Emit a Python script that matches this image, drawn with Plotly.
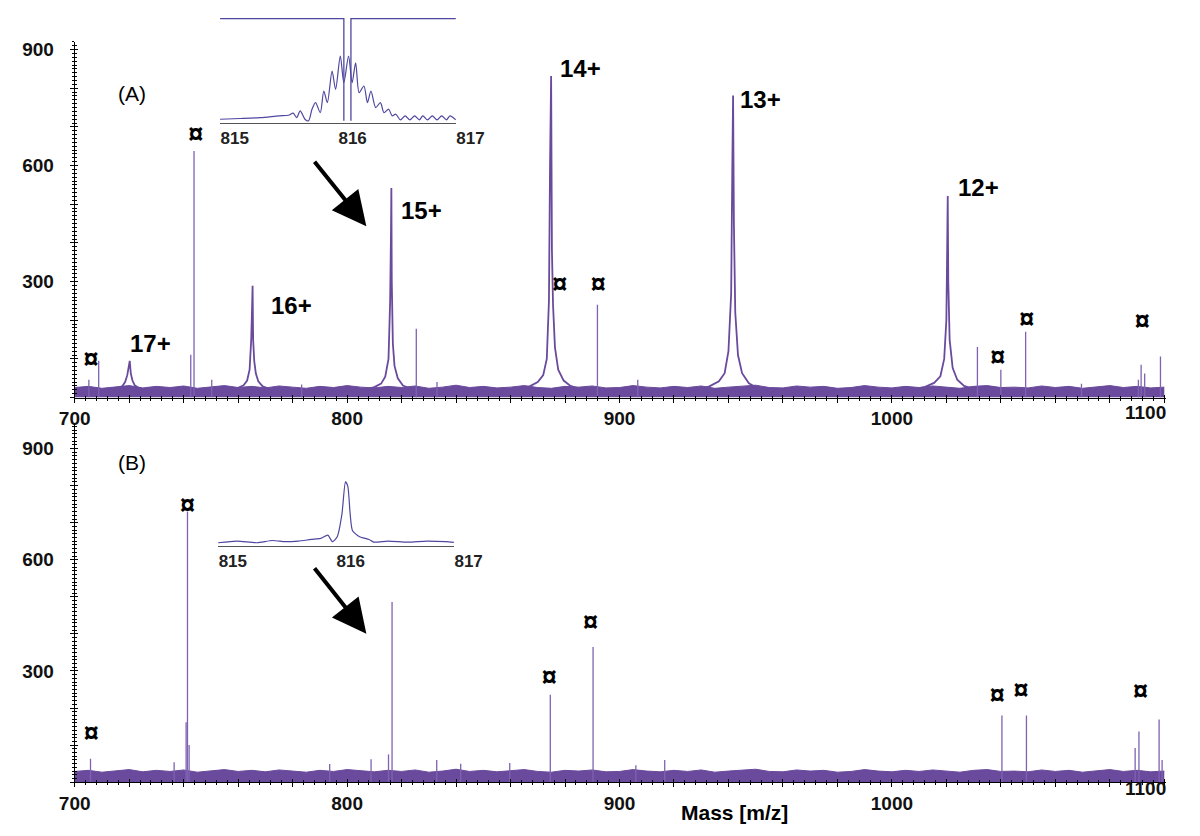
import plotly.graph_objects as go

# ---------------- data ----------------
noise_mz = list(range(700, 1101, 5))
noiseA = [26, 29, 24, 28, 31, 25, 29, 26, 30, 24, 27, 31, 26, 29, 25, 30, 27, 24, 29, 26,
          31, 27, 25, 29, 26, 30, 24, 27, 32, 26, 29, 25, 27, 31, 26, 24, 29, 27, 30, 25,
          26, 31, 27, 25, 29, 26, 30, 24, 27, 29, 32, 26, 25, 30, 27, 29, 24, 26, 31, 27,
          25, 29, 26, 30, 27, 24, 29, 31, 26, 27, 25, 30, 26, 29, 24, 27, 31, 26, 29, 25, 27]
noiseB = [29, 32, 27, 31, 34, 28, 32, 29, 33, 27, 30, 34, 29, 32, 28, 33, 30, 27, 32, 29,
          34, 30, 28, 32, 29, 33, 27, 30, 35, 29, 32, 28, 30, 34, 29, 27, 32, 30, 33, 28,
          29, 34, 30, 28, 32, 29, 33, 27, 30, 32, 35, 29, 28, 33, 30, 32, 27, 29, 34, 30,
          28, 32, 29, 33, 30, 27, 32, 34, 29, 30, 28, 33, 29, 32, 27, 30, 34, 29, 32, 28, 30]

# charge-state envelope peaks, panel A (m/z, intensity)
p17_mz = [714, 716, 717.5, 718.5, 719.3, 719.8, 720.2, 720.6, 721.2, 722, 723.5, 726]
p17_y = [20, 24, 30, 40, 58, 80, 95, 62, 44, 32, 25, 20]
p16_mz = [757, 760, 762, 763.3, 764.2, 764.8, 765.1, 765.3, 765.5, 765.9, 766.5, 767.4, 769, 772]
p16_y = [20, 25, 32, 44, 72, 150, 230, 289, 150, 95, 62, 42, 29, 21]
p15_mz = [806, 810, 812.5, 814, 815.2, 815.8, 816.1, 816.25, 816.4, 816.8, 817.4, 818.6, 820.5, 824]
p15_y = [20, 27, 36, 54, 100, 250, 423, 542, 300, 140, 82, 50, 31, 21]
p14_mz = [863, 867, 870, 872, 873.3, 874.1, 874.5, 874.9, 875.2, 875.6, 876.3, 877.5, 879.5, 882, 886]
p14_y = [21, 29, 40, 58, 100, 250, 600, 832, 380, 240, 130, 72, 44, 30, 21]
p13_mz = [929, 933, 936.5, 938.6, 940, 941, 941.4, 941.7, 942, 942.5, 943.5, 945, 947.5, 951]
p13_y = [21, 29, 42, 63, 120, 270, 582, 781, 450, 220, 110, 63, 37, 23]
p12_mz = [1008, 1012, 1015.5, 1017.8, 1019.2, 1020, 1020.3, 1020.5, 1020.7, 1021.2, 1022.3, 1024, 1026.5, 1030]
p12_y = [21, 27, 38, 55, 100, 200, 387, 521, 300, 150, 77, 46, 30, 22]

# narrow single peaks
sticksA_mz = [705.2, 708.8, 742.6, 743.8, 750.3, 783.3, 825.4, 833.0, 891.9, 906.7,
              1031.4, 1040.0, 1049.1, 1069.6, 1090.5, 1091.5, 1092.8, 1098.6]
sticksA_y = [46, 95, 111, 638, 46, 34, 178, 40, 240, 46, 131, 72, 170, 36, 46, 85, 62, 106]
sticksB_mz = [705.8, 736.5, 740.9, 741.4, 742.0, 793.6, 808.8, 815.2, 816.5, 832.9, 841.7,
              859.7, 874.6, 890.3, 906.0, 916.6, 1040.4, 1049.4, 1089.3, 1090.7, 1098.1, 1099.2]
sticksB_y = [63, 54, 162, 730, 100, 49, 62, 75, 486, 60, 50, 52, 236, 365, 46, 60,
             180, 180, 92, 137, 169, 60]

# "¤" markers
markA_mz = [706.0, 744.4, 878.1, 892.2, 1038.9, 1049.5, 1091.9]
markA_y = [95, 675, 289, 289, 100, 198, 193]
markB_mz = [706.1, 741.4, 874.2, 889.4, 1038.7, 1047.4, 1091.3]
markB_y = [126, 743, 278, 427, 230, 243, 239]

# charge state labels
charge_text = ['17+', '16+', '15+', '14+', '13+', '12+']
charge_mz = [727.9, 779.5, 827.2, 885.7, 951.6, 1031.8]
charge_y = [140, 237, 485, 850, 772, 544]

# inset A: zoom on 15+ (relative intensity)
insA_mz = [815.00, 815.17, 815.34, 815.50, 815.58, 815.62, 815.65, 815.68, 815.72, 815.75,
           815.78, 815.81, 815.85, 815.88, 815.91, 815.95, 815.98, 816.02, 816.05, 816.09,
           816.12, 816.15, 816.18, 816.22, 816.25, 816.28, 816.32, 816.36, 816.39, 816.43,
           816.46, 816.49, 816.53, 816.57, 816.61, 816.65, 816.69, 816.72, 816.76, 816.80,
           816.84, 816.88, 816.92, 816.95, 817.00]
insA_y = [1.6, 2.3, 3.2, 4.9, 5.5, 7.5, 3.2, 9.7, 1.6, 0.0,
          11.4, 17.9, 8.1, 29.2, 17.9, 48.7, 30.8, 63.3, 37.3, 63.3,
          37.3, 56.8, 27.6, 34.1, 17.9, 29.2, 13.0, 17.9, 8.1, 11.4,
          4.9, 6.5, 1.0, 4.9, 1.0, 4.9, 1.0, 4.9, 1.0, 4.9,
          1.0, 4.9, 1.0, 4.9, 1.0]
insA_win_mz = [815.0, 816.05, 816.05, None, 816.11, 816.11, 817.0]
insA_win_y = [100, 100, 0, None, 0, 100, 100]

# inset B: zoom on 816 region
insB_mz = [815.00, 815.16, 815.33, 815.46, 815.57, 815.68, 815.79, 815.87, 815.93, 815.97,
           816.01, 816.05, 816.08, 816.10, 816.12, 816.14, 816.20, 816.28, 816.32, 816.44,
           816.61, 816.77, 816.93, 817.00]
insB_y = [1.0, 2.6, 1.0, 3.2, 2.0, 2.6, 4.2, 5.2, 8.4, 2.0,
          6.8, 28.9, 60.5, 56.0, 28.9, 12.7, 6.8, 4.2, 1.6, 2.6,
          1.6, 2.6, 2.0, 1.3]

inset_ticks = [815, 816, 817]
y_tickvals = [0, 100, 200, 300, 400, 500, 600, 700, 800, 900]
y_ticktext = ['', '', '', '300', '', '', '600', '', '', '900']
x_tickvals = list(range(700, 1101, 20))
x_ticktext = [str(v) if v % 100 == 0 and v < 1100 else '' for v in x_tickvals]

# ---------------- styling / layout helpers ----------------
W, H = 1200, 836
def fx(p): return p / W
def fy(p): return 1 - p / H

PURPLE = '#6a4a9c'
STICK = '#7f62b2'
INSET = '#4d47a0'
FONT = 'Liberation Sans, Arial, sans-serif'

fig = go.Figure()

def sticks(xs, ys):
    X, Y = [], []
    for m, h in zip(xs, ys):
        X += [m, m, None]
        Y += [0, h, None]
    return X, Y

def add_panel(noise, profiles, smz, sy, mmz, my, xa, ya):
    fig.add_trace(go.Scatter(x=noise_mz, y=noise, mode='lines', fill='tozeroy',
                             line=dict(color=PURPLE, width=1), fillcolor=PURPLE,
                             xaxis=xa, yaxis=ya, showlegend=False, hoverinfo='skip'))
    for pm, pyv in profiles:
        fig.add_trace(go.Scatter(x=pm, y=pyv, mode='lines',
                                 line=dict(color=PURPLE, width=1.8),
                                 xaxis=xa, yaxis=ya, showlegend=False))
    X, Y = sticks(smz, sy)
    fig.add_trace(go.Scatter(x=X, y=Y, mode='lines', line=dict(color=STICK, width=1.3),
                             xaxis=xa, yaxis=ya, showlegend=False, connectgaps=False))
    fig.add_trace(go.Scatter(x=mmz, y=my, mode='text', text=['¤'] * len(mmz),
                             textfont=dict(family=FONT, size=27, color='black', weight='bold'),
                             cliponaxis=False, xaxis=xa, yaxis=ya, showlegend=False))

add_panel(noiseA, [(p17_mz, p17_y), (p16_mz, p16_y), (p15_mz, p15_y),
                   (p14_mz, p14_y), (p13_mz, p13_y), (p12_mz, p12_y)],
          sticksA_mz, sticksA_y, markA_mz, markA_y, 'x', 'y')
add_panel(noiseB, [], sticksB_mz, sticksB_y, markB_mz, markB_y, 'x2', 'y2')

# insets
fig.add_trace(go.Scatter(x=insA_win_mz, y=insA_win_y, mode='lines',
                         line=dict(color=INSET, width=1.3), xaxis='x3', yaxis='y3',
                         showlegend=False, connectgaps=False))
fig.add_trace(go.Scatter(x=insA_mz, y=insA_y, mode='lines',
                         line=dict(color=INSET, width=1.2, shape='spline', smoothing=0.8),
                         xaxis='x3', yaxis='y3', showlegend=False))
fig.add_trace(go.Scatter(x=insB_mz, y=insB_y, mode='lines',
                         line=dict(color=INSET, width=1.2, shape='spline', smoothing=0.6),
                         xaxis='x4', yaxis='y4', showlegend=False))

# invisible traces for the inside-tick overlay axes
for xa, ya in (('x5', 'y5'), ('x6', 'y6')):
    fig.add_trace(go.Scatter(x=[750], y=[100], mode='markers', marker=dict(opacity=0),
                             xaxis=xa, yaxis=ya, showlegend=False, hoverinfo='skip'))

tickfont = dict(family=FONT, size=19, color='#111', weight='bold')
xdom = [fx(61), fx(1195)]
domA = [fy(396), fy(39)]
domB = [fy(782), fy(423)]
XR = [700, 1100.7]
YRA = [0, 920]
YRB = [0, 965]

def xaxis_main(anchor):
    return dict(domain=xdom, range=XR, anchor=anchor, showline=True, linecolor='black',
                linewidth=1, ticks='outside', ticklen=4, tickcolor='black',
                tickmode='array', tickvals=x_tickvals, ticktext=x_ticktext,
                tickfont=tickfont, showgrid=False, zeroline=False,
                minor=dict(tickmode='linear', tick0=700, dtick=4, ticks='outside',
                           ticklen=2, tickcolor='black'))

def yaxis_main(anchor, dom, rng):
    return dict(domain=dom, range=rng, anchor=anchor, showline=True, linecolor='black',
                linewidth=1, ticks='outside', ticklen=4, tickcolor='black',
                tickmode='array', tickvals=y_tickvals, ticktext=y_ticktext,
                tickfont=tickfont, showgrid=False, zeroline=False, ticklabelstandoff=12,
                minor=dict(tickmode='linear', tick0=0, dtick=10, ticks='outside',
                           ticklen=2, tickcolor='black'))

def overlay_x(over, anchor):
    return dict(overlaying=over, matches=over, anchor=anchor, domain=xdom, range=XR,
                showline=False, ticks='inside', ticklen=3, tickcolor='black',
                tickmode='array', tickvals=x_tickvals, showticklabels=False,
                showgrid=False, zeroline=False,
                minor=dict(tickmode='linear', tick0=700, dtick=4, ticks='inside',
                           ticklen=2, tickcolor='black'))

def overlay_y(over, anchor, dom, rng):
    return dict(overlaying=over, matches=over, anchor=anchor, domain=dom, range=rng,
                showline=False, ticks='inside', ticklen=3, tickcolor='black',
                tickmode='array', tickvals=y_tickvals, showticklabels=False,
                showgrid=False, zeroline=False,
                minor=dict(tickmode='linear', tick0=0, dtick=10, ticks='inside',
                           ticklen=2, tickcolor='black'))

def inset_x(dom, anchor):
    return dict(domain=dom, range=[815, 817], anchor=anchor, showline=True,
                linecolor='#555', linewidth=1, ticks='', tickmode='array',
                tickvals=inset_ticks, ticklabelposition='outside right',
                tickfont=dict(family=FONT, size=17, color='#222', weight='bold'),
                showgrid=False, zeroline=False)

def inset_y(dom, anchor):
    return dict(domain=dom, range=[-2, 102], anchor=anchor, visible=False,
                showgrid=False, zeroline=False)

fig.update_layout(
    width=W, height=H, margin=dict(l=0, r=0, t=0, b=0),
    paper_bgcolor='white', plot_bgcolor='rgba(0,0,0,0)', showlegend=False,
    font=dict(family=FONT, color='black'),
    xaxis=xaxis_main('y'), yaxis=yaxis_main('x', domA, YRA),
    xaxis2=xaxis_main('y2'), yaxis2=yaxis_main('x2', domB, YRB),
    xaxis3=inset_x([fx(212), fx(457)], 'y3'),
    yaxis3=inset_y([fy(120.35), fy(13.55)], 'x3'),
    xaxis4=inset_x([fx(210), fx(455)], 'y4'),
    yaxis4=inset_y([fy(544.75), fy(437.95)], 'x4'),
    xaxis5=overlay_x('x', 'y5'), yaxis5=overlay_y('y', 'x5', domA, YRA),
    xaxis6=overlay_x('x2', 'y6'), yaxis6=overlay_y('y2', 'x6', domB, YRB),
)

ann = []
for t, m, v in zip(charge_text, charge_mz, charge_y):
    ann.append(dict(x=m, y=v, xref='x', yref='y', text=t, showarrow=False,
                    font=dict(family=FONT, size=24, color='black', weight='bold')))
ann += [
    dict(x=fx(104), y=fy(77), xref='paper', yref='paper', text='(A)', showarrow=False,
         font=dict(family=FONT, size=21, color='black')),
    dict(x=fx(104), y=fy(461), xref='paper', yref='paper', text='(B)', showarrow=False,
         font=dict(family=FONT, size=21, color='black')),
    dict(x=fx(1197), y=fy(411), xref='paper', yref='paper', text='1100', showarrow=False,
         xanchor='right', font=tickfont),
    dict(x=fx(1197), y=fy(801), xref='paper', yref='paper', text='1100', showarrow=False,
         xanchor='right', font=tickfont),
    dict(x=fx(747), y=fy(826), xref='paper', yref='paper', text='Mass [m/z]',
         showarrow=False, font=dict(family=FONT, size=21, color='black', weight='bold')),
    dict(x=fx(364), y=fy(224), ax=-53, ay=-66, xref='paper', yref='paper',
         axref='pixel', ayref='pixel', text='', showarrow=True, arrowhead=2,
         arrowsize=1.7, arrowwidth=4, arrowcolor='black', standoff=0),
    dict(x=fx(364), y=fy(633), ax=-53, ay=-67, xref='paper', yref='paper',
         axref='pixel', ayref='pixel', text='', showarrow=True, arrowhead=2,
         arrowsize=1.7, arrowwidth=4, arrowcolor='black', standoff=0),
]
fig.update_layout(annotations=ann)

fig.write_html('out.html')
